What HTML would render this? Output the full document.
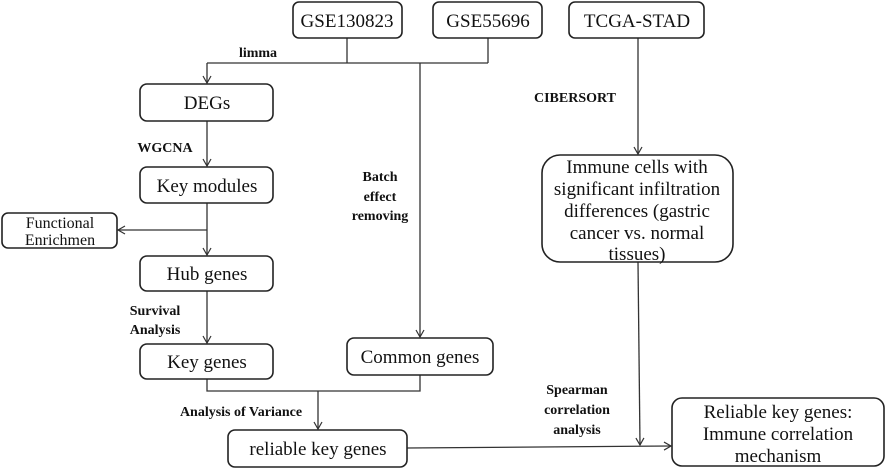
<!DOCTYPE html>
<html><head><meta charset="utf-8"><style>
body{margin:0;background:#fff}
svg{display:block}
.n{font-family:"Liberation Serif",serif;font-size:19px;fill:#111;text-anchor:middle}
.l{font-family:"Liberation Serif",serif;font-size:14px;font-weight:bold;fill:#111;text-anchor:middle}
rect{fill:#fff;stroke:#222;stroke-width:1.6}
line,polyline{stroke:#333;stroke-width:1.3;fill:none}
</style></head><body>
<svg width="886" height="470" viewBox="0 0 886 470">
<defs><marker id="a" markerWidth="10" markerHeight="10" refX="8" refY="5" orient="auto" markerUnits="userSpaceOnUse"><polyline points="1,1 8,5 1,9" style="stroke:#333;stroke-width:1.2;fill:none"/></marker></defs>
<!-- lines -->
<line x1="347" y1="38" x2="347" y2="63"/>
<line x1="488" y1="38" x2="488" y2="63"/>
<line x1="207" y1="63" x2="488" y2="63"/>
<line x1="207" y1="63" x2="207" y2="83" marker-end="url(#a)"/>
<line x1="420" y1="63" x2="420" y2="337" marker-end="url(#a)"/>
<line x1="207" y1="121" x2="207" y2="166" marker-end="url(#a)"/>
<line x1="207" y1="203" x2="207" y2="255" marker-end="url(#a)"/>
<line x1="207" y1="230" x2="118" y2="230" marker-end="url(#a)"/>
<line x1="207" y1="291" x2="207" y2="343" marker-end="url(#a)"/>
<polyline points="207,379 207,391 420,391 420,375"/>
<line x1="318" y1="391" x2="318" y2="429" marker-end="url(#a)"/>
<line x1="407" y1="448" x2="671" y2="446" marker-end="url(#a)"/>
<line x1="638" y1="38" x2="638" y2="154" marker-end="url(#a)"/>
<line x1="638" y1="262" x2="640" y2="445" marker-end="url(#a)"/>
<!-- boxes -->
<rect x="293" y="2" width="109" height="36" rx="6"/><text class="n" x="347" y="27">GSE130823</text>
<rect x="433" y="2" width="109" height="36" rx="6"/><text class="n" x="488" y="27">GSE55696</text>
<rect x="569" y="2" width="135" height="36" rx="6"/><text class="n" x="637" y="27">TCGA-STAD</text>
<rect x="140" y="84" width="133" height="37" rx="7"/><text class="n" x="207" y="109">DEGs</text>
<rect x="140" y="167" width="133" height="36" rx="7"/><text class="n" x="207" y="192">Key modules</text>
<rect x="2" y="213" width="115" height="35" rx="6"/><text class="n" style="font-size:16px" x="60" y="228">Functional</text><text class="n" style="font-size:16px" x="60" y="245">Enrichmen</text>
<rect x="140" y="256" width="133" height="35" rx="7"/><text class="n" x="207" y="280">Hub genes</text>
<rect x="140" y="344" width="133" height="35" rx="7"/><text class="n" x="207" y="368">Key genes</text>
<rect x="347" y="338" width="146" height="37" rx="7"/><text class="n" x="420" y="363">Common genes</text>
<rect x="228" y="430" width="179" height="37" rx="7"/><text class="n" x="318" y="455">reliable key genes</text>
<rect x="542" y="155" width="191" height="107" rx="18"/>
<text class="n" x="637" y="173">Immune cells with</text>
<text class="n" x="637" y="195">significant infiltration</text>
<text class="n" x="637" y="217">differences (gastric</text>
<text class="n" x="637" y="239">cancer vs. normal</text>
<text class="n" x="637" y="260">tissues)</text>
<rect x="672" y="398" width="212" height="68" rx="10"/>
<text class="n" x="778" y="418">Reliable key genes:</text>
<text class="n" x="778" y="440">Immune correlation</text>
<text class="n" x="778" y="462">mechanism</text>
<!-- labels -->
<text class="l" x="258" y="57">limma</text>
<text class="l" x="165" y="152">WGCNA</text>
<text class="l" x="380" y="181">Batch</text>
<text class="l" x="380" y="201">effect</text>
<text class="l" x="380" y="220">removing</text>
<text class="l" x="155" y="315">Survival</text>
<text class="l" x="155" y="334">Analysis</text>
<text class="l" x="241" y="416">Analysis of Variance</text>
<text class="l" x="575" y="102">CIBERSORT</text>
<text class="l" x="577" y="394">Spearman</text>
<text class="l" x="577" y="414">correlation</text>
<text class="l" x="577" y="434">analysis</text>
</svg>
</body></html>
